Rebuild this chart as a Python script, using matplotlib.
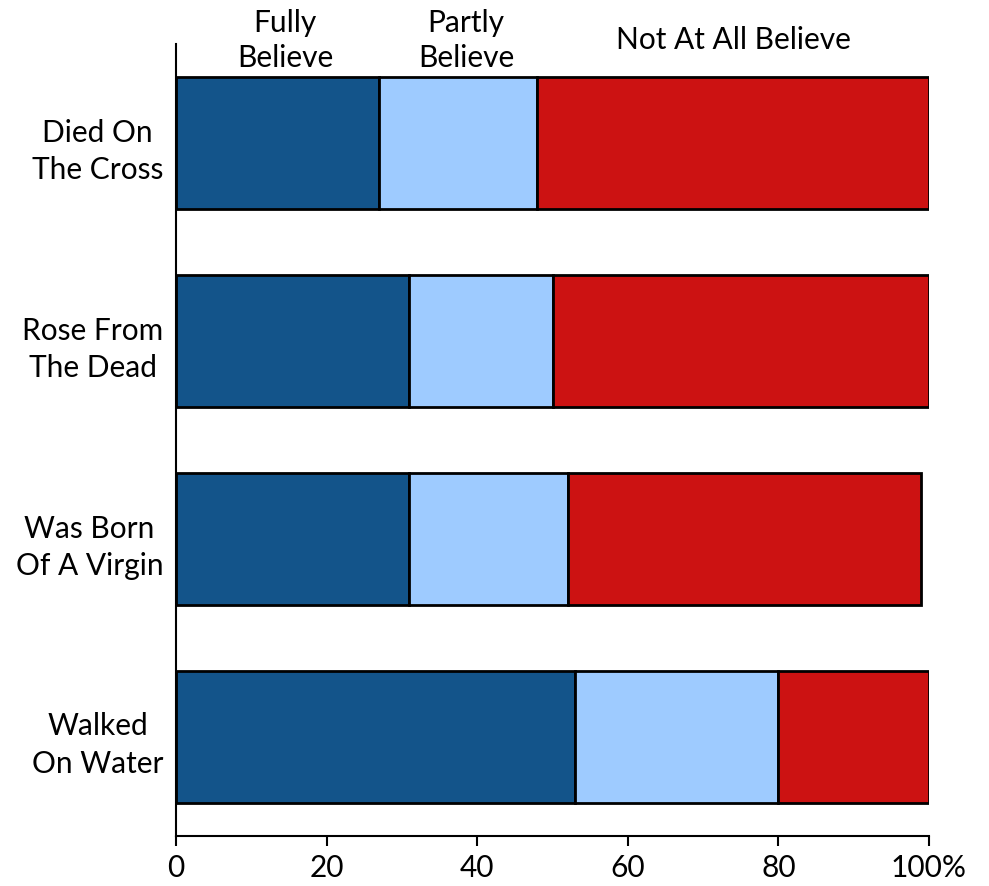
import matplotlib
matplotlib.use("Agg")
import matplotlib.pyplot as plt
import numpy as np

categories = ["Died On\nThe Cross", "Rose From\nThe Dead", "Was Born\nOf A Virgin", "Walked\nOn Water"]
series_names = ["Fully\nBelieve", "Partly\nBelieve", "Not At All Believe"]
fully = [27, 31, 31, 53]
partly = [21, 19, 21, 27]
not_at_all = [52, 50, 47, 20]
xticks = [0, 20, 40, 60, 80, 100]
xtick_labels = ["0", "20", "40", "60", "80", "100%"]

colors = ["#13548A", "#9ECBFF", "#CC1212"]
plt.rcParams['font.family'] = ['Lato', 'DejaVu Sans']

fig = plt.figure(figsize=(9.89, 8.87), dpi=100)
ax = fig.add_axes([176/989, 1-837/887, (929-176)/989, (837-45)/887])

y = np.arange(len(categories))
left = np.zeros(len(categories))
for vals, col in zip([fully, partly, not_at_all], colors):
    ax.barh(y, vals, left=left, height=0.67, color=col, edgecolor="black", linewidth=2.0)
    left = left + np.array(vals)

ax.set_xlim(0, 100)
ax.set_ylim(3.5, -0.5)
ax.set_xticks(xticks)
ax.set_xticklabels(xtick_labels, fontsize=21.5)
ax.set_yticks(y)
ax.set_yticklabels(categories, fontsize=21.5, ha="right", multialignment="center",
                   linespacing=1.4)
ax.tick_params(axis="y", length=0, pad=9)
ax.tick_params(axis="x", length=7, width=1.5, pad=5, direction="out")
for s in ["top", "right"]:
    ax.spines[s].set_visible(False)
for s in ["left", "bottom"]:
    ax.spines[s].set_linewidth(1.5)

# series labels above first bar segments
starts = [0, fully[0], fully[0] + partly[0]]
widths = [fully[0], partly[0], not_at_all[0]]
offsets = [1.0, 1.0, 0.0]
trans = matplotlib.transforms.blended_transform_factory(ax.transData, ax.transAxes)
for name, s, w, o in zip(series_names, starts, widths, offsets):
    ax.text(s + w / 2 + o, 1.006, name, transform=trans, ha="center", va="center",
            fontsize=21.5, multialignment="center", linespacing=1.3)

fig.savefig("out.png", dpi=100)
